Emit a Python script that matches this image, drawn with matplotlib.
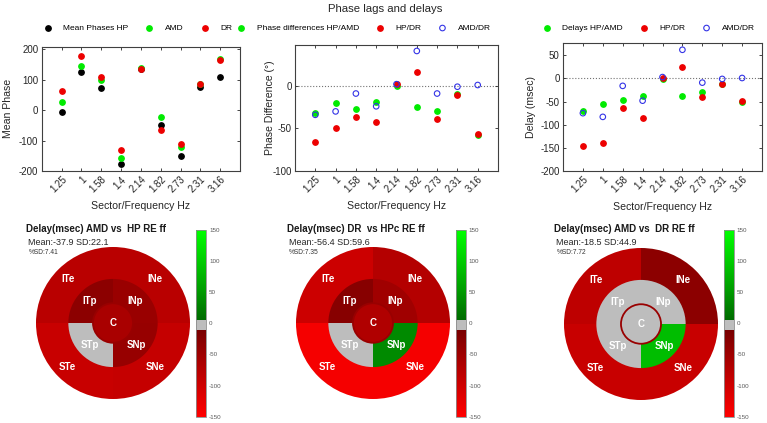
import numpy as np
import matplotlib
matplotlib.use('agg')
import matplotlib.pyplot as plt
from matplotlib.patches import Wedge, Circle
from matplotlib.colors import LinearSegmentedColormap, Normalize
import matplotlib.cm as cm

plt.rcParams['font.family'] = ['Liberation Sans', 'DejaVu Sans']
plt.rcParams['axes.unicode_minus'] = False

# ---- data ----
freqs = ['1.25', '1', '1.58', '1.4', '2.14', '1.82', '2.73', '2.31', '3.16']

phase_hp = [-5, 126, 73, -177, 136, -48, -150, 76, 109]
phase_amd = [27, 146, 100, -157, 139, -24, -120, 84, 167]
phase_dr = [62, 176, 108, -132, 134, -65, -111, 87, 165]

pdiff_hp_amd = [-32, -20, -27, -19, 0, -25, -29, -10, -58]
pdiff_hp_dr = [-66, -50, -36, -43, 2, 16, -39, -11, -56]
pdiff_amd_dr = [-34, -30, -9, -24, 2, 41, -9, -1, 1]

delay_hp_amd = [-70, -56, -46, -37, -1, -37, -29, -13, -50]
delay_hp_dr = [-146, -139, -63, -85, 2, 25, -39, -13, -48]
delay_amd_dr = [-75, -83, -16, -48, 3, 62, -9, -1, 1]

sectors = ['ITe', 'INe', 'STe', 'SNe', 'ITp', 'INp', 'STp', 'SNp', 'C']
bull_amd_hp = [-78, -78, -93, -90, -32, -45, 0, -43, -62]
bull_dr_hpc = [-97, -73, -140, -140, -26, -52, 0, 36, -68]
bull_amd_dr = [-83, -32, -93, -93, 0, 0, 0, 85, 0]

bull_titles = ['Delay(msec) AMD vs  HP RE ff', 'Delay(msec) DR  vs HPc RE ff',
               'Delay(msec) AMD vs  DR RE ff']
bull_stats = ['Mean:-37.9 SD:22.1', 'Mean:-56.4 SD:59.6', 'Mean:-18.5 SD:44.9']
bull_sd = ['%SD:7.41', '%SD:7.35', '%SD:7.72']

W, H = 767., 423.
GREEN = (0.0, 0.92, 0.0)
RED = (0.93, 0.0, 0.0)
BLUE = (0.2, 0.2, 0.9)


def fx(px):
    return px / W


def fy(py):
    return 1 - py / H


vmin, vmax = -150., 150.


def pos(v):
    return (v - vmin) / (vmax - vmin)


delay_cmap = LinearSegmentedColormap.from_list('delay', [
    (pos(-150), (1.0, 0.0, 0.0)),
    (pos(-11), (0.47, 0.0, 0.0)),
    (pos(-10.99), (0.74, 0.74, 0.74)),
    (pos(6), (0.74, 0.74, 0.74)),
    (pos(6.01), (0.0, 0.42, 0.0)),
    (pos(150), (0.0, 1.0, 0.0)),
], N=512)
norm = Normalize(vmin=vmin, vmax=vmax)

fig = plt.figure(figsize=(W / 100, H / 100), dpi=100)
fig.text(fx(385.5), fy(9), 'Phase lags and delays', ha='center', va='center', fontsize=8.2, color='0.15')

x = np.arange(1, len(freqs) + 1)


def style_top(ax, ylim, ylab, ylab_x):
    ax.set_xlim(0, 10)
    ax.set_ylim(*ylim)
    ax.set_xticks(x)
    ax.set_xticklabels(freqs, rotation=45, ha='right', rotation_mode='anchor', fontsize=6.5)
    ax.tick_params(direction='in', length=2, width=0.6, top=True, right=True, labelsize=7,
                   colors='0.15', pad=2.5)
    for s in ax.spines.values():
        s.set_linewidth(0.8)
        s.set_color('0.25')
    ax.set_ylabel(ylab, fontsize=7.6, color='0.15')
    ax.yaxis.set_label_coords(ylab_x, 0.5)
    ax.set_xlabel('Sector/Frequency Hz', fontsize=7.6, color='0.15')
    ax.xaxis.set_label_coords(0.5, -0.24)


def top_legend(ax, x0):
    ax.legend(loc='center left', bbox_to_anchor=(fx(x0), fy(28.3)), bbox_transform=fig.transFigure,
              ncol=3, frameon=False, fontsize=6, handlelength=1.0, handletextpad=1.4,
              columnspacing=2.0, borderpad=0, borderaxespad=0, scatterpoints=1)


# panel 1: mean phases
ax1 = fig.add_axes([fx(41.7), fy(171), fx(240) - fx(41.7), fy(46.7) - fy(171)])
ax1.scatter(x, phase_hp, s=15, color='k', label='Mean Phases HP', zorder=3)
ax1.scatter(x, phase_amd, s=15, color=GREEN, label='AMD', zorder=3)
ax1.scatter(x, phase_dr, s=15, color=RED, label='DR', zorder=3)
ax1.set_yticks([-200, -100, 0, 100, 200])
style_top(ax1, (-200, 208), 'Mean Phase', (13.5 - 41.7) / 198.3)
top_legend(ax1, 43.4)

# panel 2: phase differences
ax2 = fig.add_axes([fx(295), fy(171), fx(498) - fx(295), fy(45) - fy(171)])
ax2.axhline(0, color='0.45', lw=0.8, ls=':', zorder=1)
ax2.scatter(x, pdiff_hp_amd, s=15, color=GREEN, label='Phase differences HP/AMD', zorder=3)
ax2.scatter(x, pdiff_hp_dr, s=15, color=RED, label='HP/DR', zorder=3)
ax2.scatter(x, pdiff_amd_dr, s=16, facecolors='none', edgecolors=BLUE, linewidths=0.8,
            label='AMD/DR', zorder=4)
ax2.set_yticks([-100, -50, 0])
style_top(ax2, (-100, 48), 'Phase Difference (\u00b0)', (275 - 295) / 203.)
top_legend(ax2, 236.7)

# panel 3: delays
ax3 = fig.add_axes([fx(563), fy(171), fx(762) - fx(563), fy(43.3) - fy(171)])
ax3.axhline(0, color='0.45', lw=0.8, ls=':', zorder=1)
ax3.scatter(x, delay_hp_amd, s=15, color=GREEN, label='Delays HP/AMD', zorder=3)
ax3.scatter(x, delay_hp_dr, s=15, color=RED, label='HP/DR', zorder=3)
ax3.scatter(x, delay_amd_dr, s=16, facecolors='none', edgecolors=BLUE, linewidths=0.8,
            label='AMD/DR', zorder=4)
ax3.set_yticks([-200, -150, -100, -50, 0, 50])
style_top(ax3, (-200, 76), 'Delay (msec)', (536 - 563) / 199.)
top_legend(ax3, 542.4)

# ---- bullseyes ----
quad_angles = [(90, 180), (0, 90), (180, 270), (270, 360)]
r_out, r_in, r_c = 1.0, 0.58, 0.26
lab_out = [(-0.59, 0.58), (0.55, 0.58), (-0.59, -0.58), (0.55, -0.58)]
lab_in = [(-0.30, 0.29), (0.29, 0.29), (-0.30, -0.29), (0.31, -0.29)]


def bullseye(cx, cy, vals, title, stats, sd, tx, cbx):
    rx, ry = 77., 76.
    ax = fig.add_axes([fx(cx - rx), fy(cy + ry), 2 * rx / W, 2 * ry / H])
    ax.set_xlim(-1, 1)
    ax.set_ylim(-1, 1)
    ax.axis('off')
    for i in range(4):
        a0, a1 = quad_angles[i]
        ax.add_patch(Wedge((0, 0), r_out, a0, a1, facecolor=delay_cmap(norm(vals[i])),
                           edgecolor='none'))
        ax.text(lab_out[i][0], lab_out[i][1], sectors[i], color='w', fontsize=7,
                fontweight='bold', ha='center', va='center')
    for i in range(4):
        a0, a1 = quad_angles[i]
        ax.add_patch(Wedge((0, 0), r_in, a0, a1, facecolor=delay_cmap(norm(vals[4 + i])),
                           edgecolor='none'))
        ax.text(lab_in[i][0], lab_in[i][1], sectors[4 + i], color='w', fontsize=7,
                fontweight='bold', ha='center', va='center')
    ax.add_patch(Circle((0, 0), r_c, facecolor=delay_cmap(norm(vals[8])),
                        edgecolor=(0.6, 0.0, 0.0), lw=1.3))
    ax.text(0, 0, sectors[8], color='w', fontsize=7, fontweight='bold', ha='center', va='center')

    fig.text(fx(tx), fy(229), title, fontsize=7, fontweight='bold', ha='left', va='center',
             color='0.1')
    fig.text(fx(tx + 2.5), fy(242), stats, fontsize=6.5, ha='left', va='center', color='0.15')
    fig.text(fx(tx + 2.5), fy(252.5), sd, fontsize=4.8, ha='left', va='center', color='0.2')

    cax = fig.add_axes([fx(cbx), fy(416.7), 10.5 / W, 186.7 / H])
    cb = fig.colorbar(cm.ScalarMappable(norm=norm, cmap=delay_cmap), cax=cax)
    cb.set_ticks([-150, -100, -50, 0, 50, 100, 150])
    cb.ax.tick_params(labelsize=4.5, length=0, colors='0.35', pad=2)
    cb.outline.set_edgecolor('0.55')
    cb.outline.set_linewidth(0.6)


bullseye(113, 323, bull_amd_hp, bull_titles[0], bull_stats[0], bull_sd[0], 26, 195.7)
bullseye(373, 323, bull_dr_hpc, bull_titles[1], bull_stats[1], bull_sd[1], 286.7, 455.5)
bullseye(641, 324, bull_amd_dr, bull_titles[2], bull_stats[2], bull_sd[2], 554, 723.5)

plt.savefig('out.png', dpi=100)
plt.close(fig)
